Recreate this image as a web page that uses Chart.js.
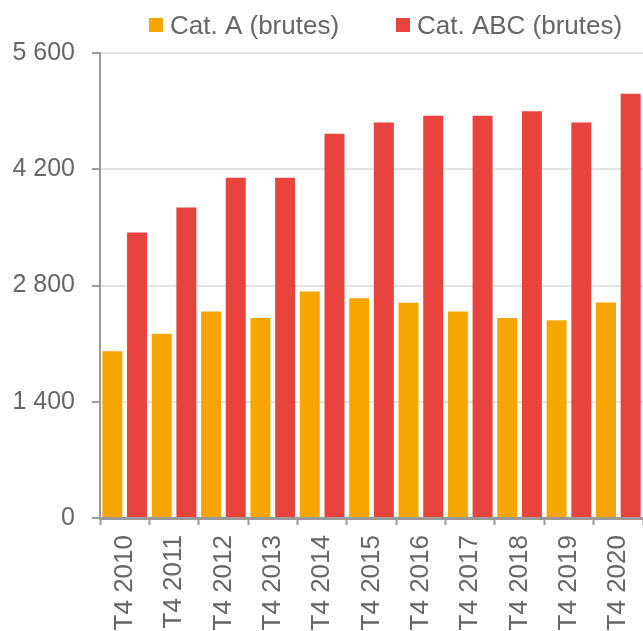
<!DOCTYPE html>
<html>
<head>
<meta charset="utf-8">
<script src="https://cdn.jsdelivr.net/npm/chart.js@4"></script>
<style>
  html, body { margin: 0; padding: 0; background: #fff; }
  #wrap { width: 643px; height: 631px; }
</style>
</head>
<body>
<div id="wrap"><canvas id="myChart"></canvas></div>
<script>
var categories = ['T4 2010', 'T4 2011', 'T4 2012', 'T4 2013', 'T4 2014', 'T4 2015',
                  'T4 2016', 'T4 2017', 'T4 2018', 'T4 2019', 'T4 2020'];
var seriesNames = ['Cat. A (brutes)', 'Cat. ABC (brutes)'];
var catA = [2020, 2230, 2500, 2420, 2740, 2660, 2605, 2500, 2420, 2395, 2608];
var catABC = [3450, 3750, 4110, 4110, 4640, 4775, 4855, 4855, 4910, 4775, 5120];
var yTicks = [0, 1400, 2800, 4200, 5600];
var yTickLabels = ['0', '1 400', '2 800', '4 200', '5 600'];

var FONT = '"Liberation Sans", Arial, sans-serif';
var TEXT = '#666666';

// legend drawn by hand so the item spacing matches
var legendBoxes = {
    id: 'legendBoxes',
    afterDraw: function (chart) {
        var ctx = chart.ctx;
        var xs = [149, 396];
        ctx.save();
        ctx.font = '26px ' + FONT;
        ctx.textBaseline = 'alphabetic';
        chart.data.datasets.forEach(function (ds, i) {
            ctx.fillStyle = ds.backgroundColor;
            ctx.fillRect(xs[i], 18, 14, 14);
            ctx.fillStyle = TEXT;
            ctx.fillText(ds.label, xs[i] + 21, 34);
        });
        ctx.restore();
    }
};

var ctx = document.getElementById('myChart').getContext('2d');

var chart = new Chart(ctx, {
    type: 'bar',
    data: {
        labels: categories,
        datasets: [{
            label: seriesNames[0],
            data: catA,
            backgroundColor: '#F7A600',
            borderColor: 'rgba(255,255,255,0.35)',
            borderWidth: 1
        }, {
            label: seriesNames[1],
            data: catABC,
            backgroundColor: '#E8433D',
            borderColor: 'rgba(255,255,255,0.35)',
            borderWidth: 1
        }]
    },
    plugins: [legendBoxes],
    options: {
        responsive: true,
        maintainAspectRatio: false,
        animation: false,
        layout: { padding: { top: 53, right: 0, left: 0, bottom: 0 } },
        datasets: {
            bar: { categoryPercentage: 1.0, barPercentage: 0.89 }
        },
        plugins: {
            legend: { display: false },
            tooltip: { enabled: false }
        },
        scales: {
            x: {
                afterFit: function (scale) {
                    scale.height = 113;
                    scale.paddingRight = 0;
                    scale.paddingLeft = 0;
                },
                border: { color: '#999999', width: 3 },
                grid: {
                    display: true,
                    drawOnChartArea: false,
                    offset: true,
                    tickLength: 7,
                    tickColor: '#999999',
                    tickWidth: 2
                },
                ticks: {
                    minRotation: 90,
                    maxRotation: 90,
                    autoSkip: false,
                    padding: 10,
                    color: TEXT,
                    font: { family: FONT, size: 26 }
                }
            },
            y: {
                min: 0,
                max: 5600,
                afterFit: function (scale) { scale.width = 100; },
                border: { color: '#999999', width: 2 },
                grid: {
                    color: '#e3e3e3',
                    lineWidth: 2,
                    tickLength: 8,
                    tickColor: '#999999',
                    tickWidth: 2
                },
                ticks: {
                    stepSize: 1400,
                    padding: 17,
                    color: TEXT,
                    font: { family: FONT, size: 25 },
                    callback: function (v) {
                        var i = yTicks.indexOf(v);
                        return i >= 0 ? yTickLabels[i] : '';
                    }
                }
            }
        }
    }
});
</script>
</body>
</html>
